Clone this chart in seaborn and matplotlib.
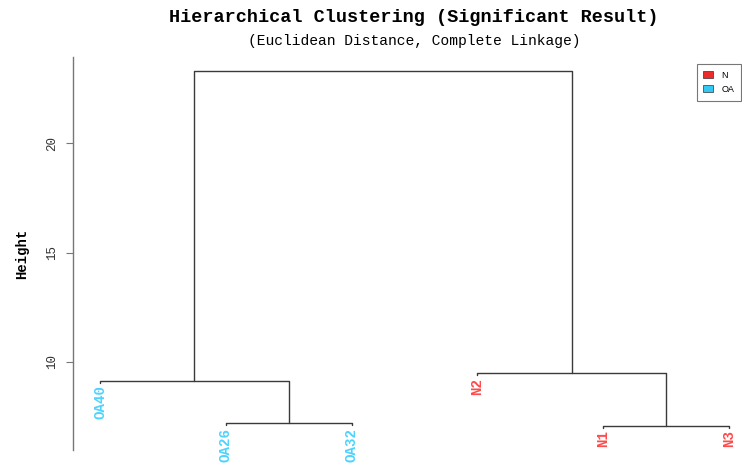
import numpy as np
import pandas as pd
import matplotlib
matplotlib.use("Agg")
import matplotlib.pyplot as plt
import seaborn as sns
from matplotlib.patches import Patch

# ---- data ----
leaf_labels = ["OA40", "OA26", "OA32", "N2", "N1", "N3"]
leaf_groups = ["OA", "OA", "OA", "N", "N", "N"]
# merges: (left, right, height); negative = leaf index (1-based), positive = merge index (1-based)
merge_left = [-2, -5, -1, -4, 3]
merge_right = [-3, -6, 1, 2, 4]
merge_height = [7.20, 7.08, 9.13, 9.48, 23.28]
group_colors = {"N": "#FF4B4B", "OA": "#4DD3FF"}
legend_fill = {"N": "#EE2B2B", "OA": "#33C7F2"}
y_ticks = [10, 15, 20]
hang = 0.08

sns.set_style("white")
plt.rcParams["font.family"] = ["Liberation Mono", "DejaVu Sans Mono"]
plt.rcParams["text.color"] = "black"

fig = plt.figure(figsize=(7.42, 4.66), dpi=100)
ax = fig.add_axes([73 / 742, 1 - 450 / 466, 1 - 73 / 742, (450 - 57) / 466])

# compute coordinates
pos = {}
hgt = {}
for i in range(len(leaf_labels)):
    pos[-(i + 1)] = i + 1
rows = []
seg = 0
for k, (l, r, h) in enumerate(zip(merge_left, merge_right, merge_height)):
    xl, xr = pos[l], pos[r]
    yl = hgt[l] if l > 0 else h - hang
    yr = hgt[r] if r > 0 else h - hang
    for xx, yy in [(xl, yl), (xl, h), (xr, h), (xr, yr)]:
        rows.append({"x": xx, "y": yy, "seg": seg})
    seg += 1
    pos[k + 1] = (xl + xr) / 2
    hgt[k + 1] = h
    if l < 0:
        hgt[l] = h - hang
    if r < 0:
        hgt[r] = h - hang

df = pd.DataFrame(rows)
sns.lineplot(data=df, x="x", y="y", units="seg", estimator=None, sort=False,
             color="#3a3a3a", linewidth=1.0, ax=ax, legend=False)

for i, (lab, g) in enumerate(zip(leaf_labels, leaf_groups)):
    yend = hgt[-(i + 1)]
    ax.text(i + 1, yend - 0.12, lab, rotation=90, ha="center", va="top",
            color=group_colors[g], fontsize=10.2, fontweight="bold", clip_on=False)

ax.set_xlim(1 - 27 / 125.8, 1 + (742 - 100) / 125.8)
ax.set_ylim(5.98, 23.93)
ax.set_yticks(y_ticks)
ax.set_yticklabels([str(t) for t in y_ticks], rotation=90, va="center", fontsize=9, color="#333333")
ax.tick_params(axis="y", length=5, width=0.8, color="#777777", pad=6, left=True)
ax.set_xticks([])
ax.set_xlabel("")
ax.set_ylabel("Height", fontsize=10, fontweight="bold", labelpad=12, color="black")
for s in ["top", "right", "bottom"]:
    ax.spines[s].set_visible(False)
ax.spines["left"].set_color("#777777")
ax.spines["left"].set_linewidth(1.0)
ax.patch.set_alpha(0)

fig.text(414 / 742, 1 - 18 / 466, "Hierarchical Clustering (Significant Result)",
         ha="center", va="center", fontsize=13.3, fontweight="bold", color="black")
fig.text(414 / 742, 1 - 41 / 466, "(Euclidean Distance, Complete Linkage)",
         ha="center", va="center", fontsize=10.5, color="black")

handles = [Patch(facecolor=legend_fill[g], edgecolor="#333333", linewidth=0.5, label=g)
           for g in ["N", "OA"]]
leg = fig.legend(handles=handles, loc="upper right", bbox_to_anchor=(741 / 742, 1 - 64 / 466),
                 frameon=True, fancybox=False, handlelength=1.1, handleheight=0.75,
                 handletextpad=0.9, borderpad=0.75, labelspacing=0.55, borderaxespad=0,
                 prop={"family": "Liberation Sans", "size": 6.5})
leg.get_frame().set_edgecolor("#555555")
leg.get_frame().set_linewidth(0.8)

fig.savefig("out.png", dpi=100)
